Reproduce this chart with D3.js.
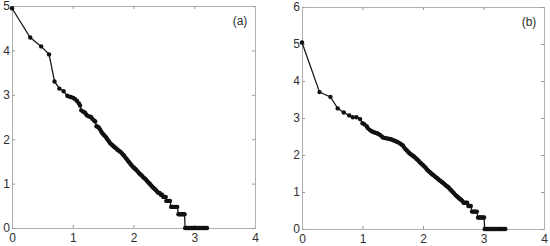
<!DOCTYPE html>
<html>
<head>
<meta charset="utf-8">
<script src="https://cdn.jsdelivr.net/npm/d3@7"></script>
<style>
body { margin: 0; background: #fff; }
svg text { font-family: "Liberation Sans", Arial, sans-serif; }
</style>
</head>
<body>
<div id="canvas"></div>
<script>
// panel (a)
var aX = [0, 0.30, 0.48, 0.61, 0.70, 0.78, 0.85, 0.91, 0.94, 0.97, 1.01, 1.04, 1.07, 1.10, 1.12, 1.14, 1.17, 1.20, 1.22, 1.24,
    1.27, 1.30, 1.32, 1.35, 1.37, 1.39, 1.41, 1.43, 1.45, 1.47, 1.49, 1.51, 1.53, 1.55, 1.57, 1.59, 1.61, 1.63, 1.65, 1.67,
    1.69, 1.71, 1.73, 1.75, 1.77, 1.79, 1.81, 1.83, 1.85, 1.87, 1.89, 1.91, 1.93, 1.95, 1.97, 1.99, 2.01, 2.03, 2.05, 2.07,
    2.09, 2.11, 2.13, 2.15, 2.17, 2.19, 2.21, 2.23, 2.25, 2.27, 2.29, 2.31, 2.33, 2.35, 2.37, 2.39, 2.41, 2.43, 2.45, 2.47,
    2.49, 2.51, 2.53, 2.54, 2.56, 2.58, 2.60, 2.62, 2.64, 2.66, 2.68, 2.70, 2.72, 2.74, 2.76, 2.78, 2.80, 2.82, 2.84,
    2.85, 2.87, 2.89, 2.91, 2.93, 2.95, 2.97, 2.99, 3.01, 3.03, 3.05, 3.07, 3.09, 3.11, 3.13, 3.15, 3.17, 3.19, 3.21];
var aY = [4.95, 4.29, 4.09, 3.91, 3.30, 3.14, 3.08, 2.98, 2.96, 2.95, 2.93, 2.90, 2.86, 2.81, 2.76, 2.65, 2.62, 2.60, 2.56, 2.53,
    2.51, 2.50, 2.46, 2.42, 2.40, 2.29, 2.28, 2.26, 2.22, 2.17, 2.13, 2.10, 2.07, 2.04, 2.00, 1.96, 1.92, 1.89, 1.87, 1.84,
    1.82, 1.80, 1.77, 1.75, 1.73, 1.71, 1.68, 1.65, 1.62, 1.58, 1.55, 1.51, 1.48, 1.44, 1.41, 1.38, 1.35, 1.33, 1.30, 1.27,
    1.24, 1.21, 1.19, 1.16, 1.13, 1.11, 1.08, 1.05, 1.02, 0.99, 0.96, 0.93, 0.90, 0.88, 0.85, 0.82, 0.79, 0.79, 0.75, 0.75,
    0.70, 0.70, 0.70, 0.61, 0.61, 0.61, 0.61, 0.475, 0.475, 0.475, 0.475, 0.475, 0.475, 0.31, 0.31, 0.31, 0.31, 0.31, 0.31,
    0, 0, 0, 0, 0, 0, 0, 0, 0, 0, 0, 0, 0, 0, 0, 0, 0, 0, 0];

// panel (b)
var bX = [0, 0.29, 0.47, 0.59, 0.69, 0.78, 0.84, 0.90, 0.96, 1.00, 1.03, 1.07, 1.09, 1.12, 1.15, 1.18, 1.21, 1.24, 1.26, 1.29,
    1.32, 1.34, 1.37, 1.40, 1.43, 1.46, 1.48, 1.51, 1.54, 1.57, 1.59, 1.62, 1.65, 1.67, 1.69, 1.71, 1.73, 1.75, 1.77, 1.79,
    1.81, 1.83, 1.85, 1.87, 1.89, 1.91, 1.93, 1.95, 1.97, 1.99, 2.01, 2.03, 2.05, 2.07, 2.09, 2.11, 2.13, 2.15, 2.17, 2.19,
    2.21, 2.23, 2.25, 2.27, 2.29, 2.31, 2.33, 2.35, 2.37, 2.39, 2.41, 2.43, 2.45, 2.47, 2.49, 2.51, 2.53, 2.55, 2.57, 2.59,
    2.61, 2.63, 2.65, 2.67, 2.69, 2.71, 2.73, 2.75, 2.77, 2.79, 2.81, 2.83, 2.85, 2.87, 2.89, 2.91, 2.93, 2.95, 2.97, 2.99, 3.01,
    3.02, 3.04, 3.06, 3.08, 3.10, 3.12, 3.14, 3.16, 3.18, 3.20, 3.22, 3.24, 3.26, 3.28, 3.30, 3.32, 3.34, 3.36];
var bY = [5.04, 3.70, 3.57, 3.26, 3.15, 3.07, 3.02, 3.02, 2.97, 2.86, 2.83, 2.78, 2.72, 2.68, 2.64, 2.62, 2.60, 2.59, 2.57, 2.54,
    2.50, 2.47, 2.46, 2.45, 2.44, 2.43, 2.42, 2.40, 2.38, 2.36, 2.34, 2.31, 2.28, 2.25, 2.20, 2.16, 2.13, 2.09, 2.06, 2.03,
    2.01, 1.98, 1.96, 1.93, 1.90, 1.87, 1.84, 1.80, 1.77, 1.74, 1.71, 1.68, 1.64, 1.60, 1.57, 1.54, 1.51, 1.48, 1.46, 1.43,
    1.40, 1.38, 1.35, 1.32, 1.30, 1.27, 1.25, 1.22, 1.19, 1.16, 1.14, 1.11, 1.07, 1.04, 1.00, 0.97, 0.93, 0.90, 0.87, 0.84,
    0.81, 0.79, 0.76, 0.71, 0.71, 0.71, 0.71, 0.62, 0.62, 0.62, 0.47, 0.47, 0.47, 0.47, 0.47, 0.31, 0.31, 0.31, 0.31, 0.31, 0.31,
    0, 0, 0, 0, 0, 0, 0, 0, 0, 0, 0, 0, 0, 0, 0, 0, 0, 0];

var xTicks = [0, 1, 2, 3, 4];
var aYTicks = [0, 1, 2, 3, 4, 5];
var bYTicks = [0, 1, 2, 3, 4, 5, 6];
var panelLabels = ['(a)', '(b)'];

var svg = d3.select('#canvas').append('svg:svg')
    .attr('width', 550)
    .attr('height', 246);

var drawPanel = function (opts) {
    var x = d3.scaleLinear().domain([0, 4]).range([opts.left, opts.left + opts.width]);
    var y = d3.scaleLinear().domain([0, opts.yMax]).range([opts.top + opts.height, opts.top]);
    var g = svg.append('g');

    var tickCol = '#303030';
    var boxCol = '#b0b0b0';

    g.append('g')
        .attr('transform', 'translate(0,' + (opts.top + opts.height) + ')')
        .call(d3.axisBottom(x).tickValues(xTicks).tickFormat(d3.format('d')).tickSize(-3).tickPadding(5));
    g.append('g')
        .attr('transform', 'translate(0,' + opts.top + ')')
        .call(d3.axisTop(x).tickValues(xTicks).tickFormat('').tickSize(-3));
    g.append('g')
        .attr('transform', 'translate(' + opts.left + ',0)')
        .call(d3.axisLeft(y).tickValues(opts.yTicks).tickFormat(d3.format('d')).tickSize(-3).tickPadding(2));
    g.append('g')
        .attr('transform', 'translate(' + (opts.left + opts.width) + ',0)')
        .call(d3.axisRight(y).tickValues(opts.yTicks).tickFormat('').tickSize(-3));

    g.selectAll('.domain').attr('stroke', boxCol);
    g.selectAll('.tick line').attr('stroke', '#999');
    g.selectAll('.tick text')
        .attr('fill', tickCol)
        .style('font-size', '12px');

    var pts = opts.xs.map(function (d, i) { return [d, opts.ys[i]]; });

    g.append('path')
        .attr('d', d3.line().x(function (d) { return x(d[0]); }).y(function (d) { return y(d[1]); })(pts))
        .attr('fill', 'none')
        .attr('stroke', '#1a1a1a')
        .attr('stroke-width', 1.3);

    g.selectAll('circle.pt')
        .data(pts)
        .enter().append('circle')
        .attr('class', 'pt')
        .attr('cx', function (d) { return x(d[0]); })
        .attr('cy', function (d) { return y(d[1]); })
        .attr('r', 2.2)
        .attr('fill', '#111');

    g.append('text')
        .attr('x', opts.left + opts.width - 15)
        .attr('y', opts.top + 19)
        .attr('text-anchor', 'middle')
        .attr('fill', tickCol)
        .style('font-size', '12px')
        .text(opts.label);
};

drawPanel({ left: 12, top: 6, width: 243, height: 222, yMax: 5, yTicks: aYTicks, xs: aX, ys: aY, label: panelLabels[0] });
drawPanel({ left: 302, top: 7, width: 242, height: 222, yMax: 6, yTicks: bYTicks, xs: bX, ys: bY, label: panelLabels[1] });
</script>
</body>
</html>
